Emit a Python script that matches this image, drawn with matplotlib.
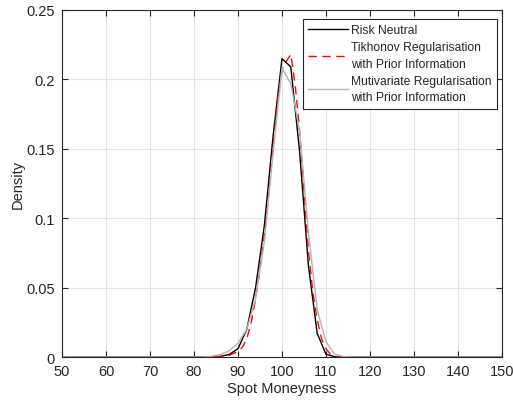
import numpy as np
import matplotlib
matplotlib.use("Agg")
import matplotlib.pyplot as plt

plt.rcParams['font.family'] = ['Liberation Sans', 'DejaVu Sans']

# risk neutral density
rn_x = [50, 84, 86, 88, 90, 92, 94, 96, 98, 100, 102, 104, 106, 108, 110, 112, 114, 150]
rn_y = [0, 0, 0.0005, 0.0018, 0.006, 0.02, 0.05, 0.095, 0.16, 0.215, 0.209, 0.148,
        0.066, 0.017, 0.002, 0.0002, 0, 0]

# Tikhonov regularisation with prior information
tik_x = [50, 84, 86, 88, 90, 91, 92, 93, 94, 95, 96, 97, 98, 99, 100, 101, 102, 103,
         104, 105, 106, 107, 108, 109, 110, 111, 112, 113, 114, 150]
tik_y = [0, 0, 0.0003, 0.0012, 0.004, 0.007, 0.013, 0.025, 0.042, 0.063, 0.088, 0.118,
         0.152, 0.185, 0.207, 0.213, 0.218, 0.196, 0.163, 0.12, 0.077, 0.047, 0.027,
         0.013, 0.006, 0.002, 0.0007, 0.0002, 0, 0]

# multivariate regularisation with prior information
mv_x = [50, 82, 84, 86, 88, 90, 92, 94, 96, 98, 100, 102, 104, 106, 108, 110, 112, 114, 116, 150]
mv_y = [0, 0, 0.0005, 0.0018, 0.0045, 0.010, 0.02, 0.042, 0.083, 0.148, 0.208, 0.197,
        0.163, 0.09, 0.034, 0.011, 0.002, 0.0003, 0, 0]

x_ticks = [50, 60, 70, 80, 90, 100, 110, 120, 130, 140, 150]
y_ticks = [0, 0.05, 0.1, 0.15, 0.2, 0.25]
y_labels = ['0', '0.05', '0.1', '0.15', '0.2', '0.25']

dark = '#262626'

fig = plt.figure(figsize=(5.13, 4.02), dpi=100)
ax = fig.add_axes([62 / 513, 1 - 358 / 402, 440 / 513, 347 / 402])

ax.plot(rn_x, rn_y, color='black', lw=1.0, label='Risk Neutral')
ax.plot(tik_x, tik_y, color='red', lw=1.0, dashes=(6, 4),
        label='Tikhonov Regularisation\nwith Prior Information')
ax.plot(mv_x, mv_y, color='#b3b3b3', lw=1.0,
        label='Mutivariate Regularisation\nwith Prior Information')

ax.set_xlim(50, 150)
ax.set_ylim(0, 0.25)
ax.set_xticks(x_ticks)
ax.set_yticks(y_ticks)
ax.set_yticklabels(y_labels)
ax.grid(True, color='#e3e3e3', lw=0.8)
ax.set_axisbelow(True)
ax.tick_params(direction='in', length=4, width=0.8, colors=dark, labelsize=10.5,
               top=True, right=True, pad=5)
for s in ax.spines.values():
    s.set_color(dark)
    s.set_linewidth(0.8)

ax.set_xlabel('Spot Moneyness', fontsize=10.5, color=dark, labelpad=2)
ax.set_ylabel('Density', fontsize=10.5, color=dark, labelpad=1)

leg = ax.legend(loc='upper right', bbox_to_anchor=(0.9886, 0.974), fontsize=8.7,
                fancybox=False, framealpha=1, edgecolor=dark, handlelength=3.3,
                handletextpad=0.25, borderaxespad=0, labelspacing=0.4,
                borderpad=0.45)
leg.get_frame().set_linewidth(0.8)
for t in leg.get_texts():
    t.set_color(dark)
    t.set_linespacing(1.5)

fig.savefig('out.png', dpi=100)
